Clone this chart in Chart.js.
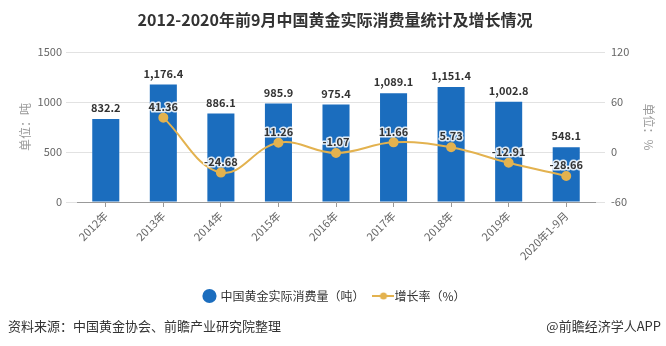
<!DOCTYPE html>
<html>
<head>
<meta charset="utf-8">
<script src="https://cdn.jsdelivr.net/npm/chart.js@4/dist/chart.umd.min.js"></script>
<style>
  html, body { margin: 0; padding: 0; background: #fff; }
  #wrap { width: 666px; height: 346px; }
</style>
</head>
<body>
<div id="wrap"><canvas id="chart" width="666" height="346"></canvas></div>
<script>
// 数据
var categories = ['2012年', '2013年', '2014年', '2015年', '2016年', '2017年', '2018年', '2019年', '2020年1-9月'];
var consumption = [832.2, 1176.4, 886.1, 985.9, 975.4, 1089.1, 1151.4, 1002.8, 548.1];
var growth = [null, 41.36, -24.68, 11.26, -1.07, 11.66, 5.73, -12.91, -28.66];
var leftTicks = [0, 500, 1000, 1500];
var rightTicks = [-60, 0, 60, 120];

var FONT = "'Noto Sans CJK SC', 'Liberation Sans', sans-serif";
var BLUE = '#1B6DBE';
var GOLD = '#E3B24F';

// 图例里折线的小图标
function lineIcon() {
    var c = document.createElement('canvas');
    c.width = 22; c.height = 10;
    var g = c.getContext('2d');
    g.strokeStyle = GOLD;
    g.lineWidth = 2;
    g.beginPath(); g.moveTo(0, 5); g.lineTo(22, 5); g.stroke();
    g.fillStyle = GOLD;
    g.beginPath(); g.arc(11, 5, 3.5, 0, Math.PI * 2); g.fill();
    return c;
}
var lineLegendIcon = lineIcon();

function fmtBar(v) {
    return v.toLocaleString('en-US', { minimumFractionDigits: 1, maximumFractionDigits: 1 });
}

// 数据标签 + 底部来源
var labelPlugin = {
    id: 'labels',
    afterDatasetsDraw: function(chart) {
        var ctx = chart.ctx;
        ctx.save();
        ctx.textAlign = 'center';
        ctx.textBaseline = 'middle';
        ctx.font = 'bold 11px ' + FONT;
        ctx.fillStyle = '#333';
        chart.getDatasetMeta(0).data.forEach(function(el, i) {
            ctx.fillText(fmtBar(consumption[i]), el.x, el.y - 11);
        });
        ctx.lineWidth = 3;
        ctx.strokeStyle = 'rgba(255,255,255,0.85)';
        ctx.lineJoin = 'round';
        chart.getDatasetMeta(1).data.forEach(function(el, i) {
            if (growth[i] === null) return;
            var t = growth[i].toFixed(2);
            ctx.strokeText(t, el.x, el.y - 11);
            ctx.fillText(t, el.x, el.y - 11);
        });
        ctx.restore();
    },
    afterDraw: function(chart) {
        var ctx = chart.ctx;
        ctx.save();
        ctx.font = '13px ' + FONT;
        ctx.fillStyle = '#333';
        ctx.textBaseline = 'middle';
        ctx.textAlign = 'left';
        ctx.fillText('资料来源：中国黄金协会、前瞻产业研究院整理', 8, 326);
        ctx.textAlign = 'right';
        ctx.fillText('@前瞻经济学人APP', 661, 326);
        ctx.restore();
    }
};

var chart = new Chart(document.getElementById('chart'), {
    type: 'bar',
    data: {
        labels: categories,
        datasets: [{
            type: 'bar',
            label: '中国黄金实际消费量（吨）',
            data: consumption,
            backgroundColor: BLUE,
            barPercentage: 0.47,
            categoryPercentage: 1,
            yAxisID: 'y',
            order: 2
        }, {
            type: 'line',
            label: '增长率（%）',
            data: growth,
            borderColor: GOLD,
            backgroundColor: GOLD,
            borderWidth: 2,
            pointRadius: 4,
            pointBackgroundColor: GOLD,
            pointBorderColor: GOLD,
            tension: 0.4,
            spanGaps: true,
            yAxisID: 'y1',
            order: 1
        }]
    },
    options: {
        responsive: false,
        animation: false,
        layout: { padding: { left: 10, right: 6, top: 0, bottom: 34 } },
        plugins: {
            title: {
                display: true,
                text: '2012-2020年前9月中国黄金实际消费量统计及增长情况',
                color: '#333',
                font: { family: FONT, size: 16, weight: 'bold' },
                padding: { top: 10, bottom: 23 }
            },
            legend: {
                position: 'bottom',
                labels: {
                    usePointStyle: true,
                    boxWidth: 10,
                    boxHeight: 10,
                    padding: 14,
                    color: '#333',
                    font: { family: FONT, size: 12 },
                    sort: function(a, b) { return a.datasetIndex - b.datasetIndex; },
                    generateLabels: function(chart) {
                        var items = Chart.defaults.plugins.legend.labels.generateLabels(chart);
                        items.forEach(function(it) {
                            it.pointStyle = it.datasetIndex === 0 ? 'circle' : lineLegendIcon;
                        });
                        return items;
                    }
                }
            },
            tooltip: { enabled: false }
        },
        scales: {
            x: {
                grid: { display: true, drawOnChartArea: false, offset: false, tickLength: 5, color: '#999' },
                border: { color: '#999' },
                ticks: {
                    color: '#666',
                    font: { family: FONT, size: 11 },
                    minRotation: 45,
                    maxRotation: 45,
                    padding: 2
                },
                afterFit: function(s) { s.height = 74; }
            },
            y: {
                position: 'left',
                min: 0,
                max: 1500,
                afterBuildTicks: function(s) { s.ticks = leftTicks.map(function(v) { return { value: v }; }); },
                grid: { color: '#e2e2e2', tickLength: 11 },
                border: { display: false },
                ticks: {
                    color: '#666', font: { family: FONT, size: 11 }, padding: 4,
                    callback: function(v) { return String(v); }
                },
                title: {
                    display: true, text: '单位：吨', color: '#999',
                    font: { family: FONT, size: 12 }, padding: { top: 8, bottom: 0 }
                },
                afterFit: function(s) { s.width = 67; }
            },
            y1: {
                position: 'right',
                min: -60,
                max: 120,
                afterBuildTicks: function(s) { s.ticks = rightTicks.map(function(v) { return { value: v }; }); },
                grid: { drawOnChartArea: false, color: '#e2e2e2', tickLength: 10 },
                border: { display: false },
                ticks: {
                    color: '#666', font: { family: FONT, size: 11 }, padding: 6,
                    callback: function(v) { return String(v); }
                },
                title: {
                    display: true, text: '单位：%', color: '#999',
                    font: { family: FONT, size: 12 }, padding: { top: 4, bottom: 0 }
                },
                afterFit: function(s) { s.width = 65; }
            }
        }
    },
    plugins: [labelPlugin]
});
</script>
</body>
</html>
